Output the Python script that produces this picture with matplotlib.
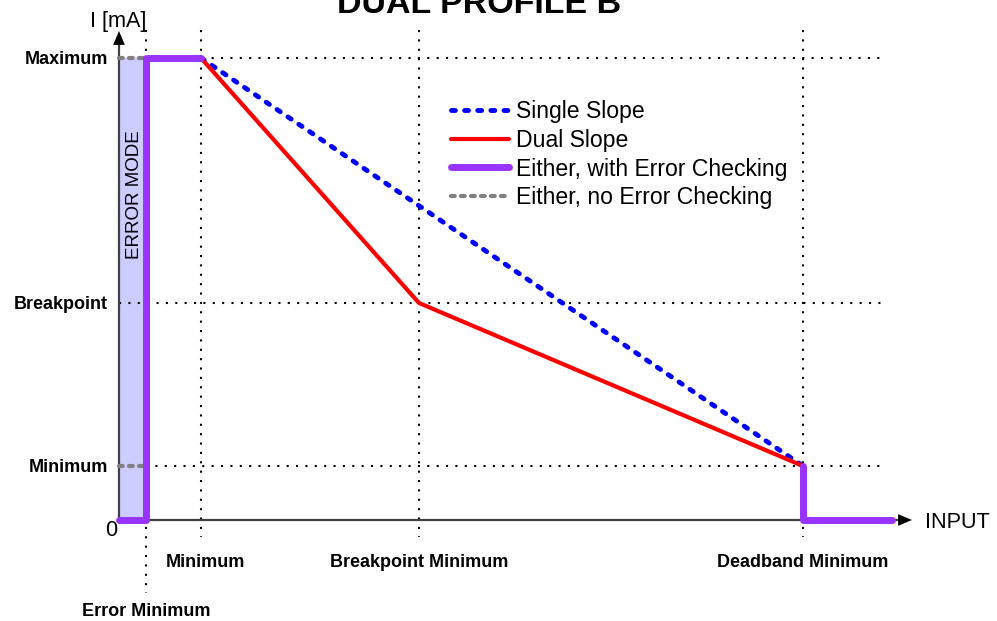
import matplotlib
matplotlib.use("Agg")
from matplotlib import pyplot as plt
from matplotlib.lines import Line2D

plt.rcParams['font.family'] = ['Liberation Sans', 'DejaVu Sans']

# input positions (x) and current levels (y), chart units
x_err_min = 27
x_min = 82
x_bp_min = 300
x_db_min = 684
x_end = 773
x_arrow = 793

y_max = 462
y_bp = 217
y_min = 54
y_top = 490

single_x = [x_min, x_db_min]
single_y = [y_max, y_min]

dual_x = [x_min, x_bp_min, x_db_min]
dual_y = [y_max, y_bp, y_min]

err_x1 = [0, x_err_min, x_err_min, x_min]
err_y1 = [0, 0, y_max, y_max]
err_x2 = [x_db_min, x_db_min, x_end]
err_y2 = [y_min, 0, 0]

y_levels = [y_max, y_bp, y_min]
y_labels = ['Maximum', 'Breakpoint', 'Minimum']

x_marks = [x_min, x_bp_min, x_db_min]
x_labels = ['Minimum', 'Breakpoint Minimum', 'Deadband Minimum']

if __name__ == '__main__':
    fig = plt.figure(figsize=(9.97, 6.21), dpi=100)
    ax = fig.add_axes([0, 0, 1, 1])
    ax.set_xlim(-119, 878)
    ax.set_ylim(-101, 520)
    ax.axis('off')

    dot = dict(color='black', lw=1.5, linestyle=(0, (1, 3.5)), zorder=2)

    # error mode band
    ax.fill_between([0, x_err_min], 0, y_max, color='#ccccff', zorder=1)
    ax.text(15, 325, 'ERROR MODE', rotation=90, ha='center', va='center',
            fontsize=13.5, zorder=3)

    # dotted guide lines
    ax.plot([x_err_min, x_end - 10], [y_max, y_max], **dot)
    ax.plot([0, x_end - 10], [y_bp, y_bp], **dot)
    ax.plot([x_err_min, x_end - 10], [y_min, y_min], **dot)
    ax.plot([x_err_min, x_err_min], [y_top, -73], **dot)
    for xm in x_marks:
        ax.plot([xm, xm], [y_top, -17], **dot)

    # axes with arrows
    ax.plot([0, x_arrow - 12], [0, 0], color='#404040', lw=1.6, zorder=2)
    ax.plot([0, 0], [0, y_top - 10], color='#404040', lw=1.6, zorder=2)
    head = '-|>,head_length=1.0,head_width=0.42'
    ax.annotate('', xy=(x_arrow, 0), xytext=(x_arrow - 14, 0),
                arrowprops=dict(arrowstyle=head, color='black', lw=0,
                                shrinkA=0, shrinkB=0), zorder=3)
    ax.annotate('', xy=(0, 489), xytext=(0, 475),
                arrowprops=dict(arrowstyle=head, color='black', lw=0,
                                shrinkA=0, shrinkB=0), zorder=3)

    # curves
    ax.plot(single_x, single_y, color='#0000ff', lw=3.5, linestyle=(0, (0.8, 1.9)),
            dash_capstyle='round', zorder=4)
    ax.plot(dual_x, dual_y, color='#ff0000', lw=3, solid_capstyle='round', zorder=4)
    for lx in ([0, x_err_min], ):
        ax.plot(lx, [y_max, y_max], color='#808080', lw=3, linestyle=(0, (0.9, 1.5)),
                dash_capstyle='round', zorder=4)
        ax.plot(lx, [y_min, y_min], color='#808080', lw=3, linestyle=(0, (0.9, 1.5)),
                dash_capstyle='round', zorder=4)
    ax.plot(err_x1, err_y1, color='#9933ff', lw=5, solid_capstyle='round',
            solid_joinstyle='round', zorder=5)
    ax.plot(err_x2, err_y2, color='#9933ff', lw=5, solid_capstyle='round',
            solid_joinstyle='round', zorder=5)

    # labels
    for yl, lab in zip(y_levels, y_labels):
        ax.text(-11, yl - 6, lab, ha='right', va='baseline', fontsize=13,
                fontweight='bold')
    for xm, lab in zip(x_marks, x_labels):
        ax.text(xm + (4 if xm == x_min else 0), -47, lab, ha='center', va='baseline',
                fontsize=13, fontweight='bold')
    ax.text(x_err_min, -96, 'Error Minimum', ha='center', va='baseline',
            fontsize=13, fontweight='bold')
    ax.text(-2, -16, '0', ha='right', va='baseline', fontsize=15.6)
    ax.text(806, -8, 'INPUT', ha='left', va='baseline', fontsize=15.6)
    ax.text(-1, 493, 'I [mA]', ha='center', va='baseline', fontsize=15.6)
    ax.text(360, 507, 'DUAL PROFILE B', ha='center', va='baseline', fontsize=24.5,
            fontweight='bold')

    handles = [
        Line2D([], [], color='#0000ff', lw=3.5, linestyle=(0, (0.8, 1.9)),
               dash_capstyle='round'),
        Line2D([], [], color='#ff0000', lw=3, solid_capstyle='round'),
        Line2D([], [], color='#9933ff', lw=5, solid_capstyle='round'),
        Line2D([], [], color='#808080', lw=3, linestyle=(0, (0.9, 1.5)),
               dash_capstyle='round'),
    ]
    names = ['Single Slope', 'Dual Slope', 'Either, with Error Checking',
             'Either, no Error Checking']
    ax.legend(handles, names, loc='upper left', bbox_to_anchor=(451 / 997, 1 - 100 / 621),
              frameon=False, fontsize=16.6, handlelength=2.5, handletextpad=0.3,
              labelspacing=0.25, borderpad=0, borderaxespad=0)

    fig.savefig('out.png', dpi=100)
